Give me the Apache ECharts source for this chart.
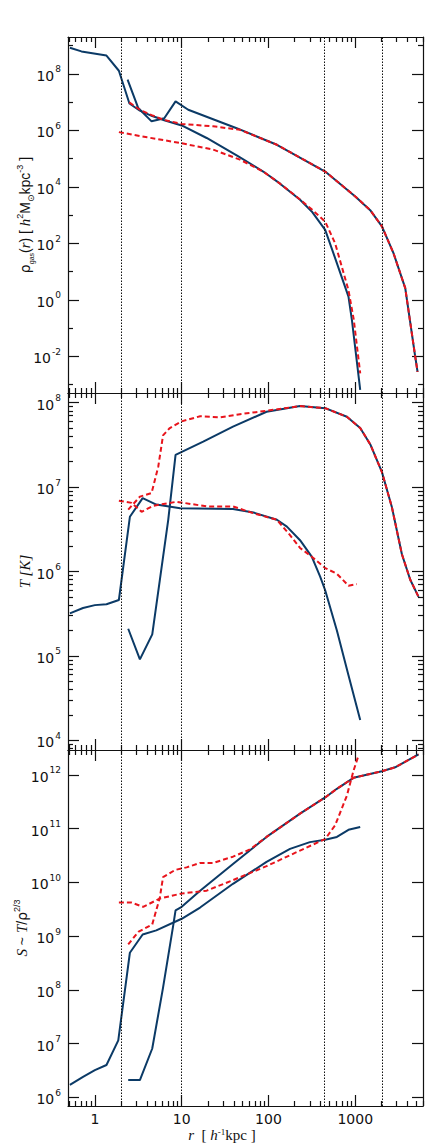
<!DOCTYPE html>
<html><head><meta charset="utf-8">
<script src="https://cdn.jsdelivr.net/npm/echarts@6/dist/echarts.min.js"></script>
<style>html,body{margin:0;padding:0;background:#fff}#c{width:436px;height:1144px}</style>
</head><body><div id="c"></div>
<script>
// ---------------- data ----------------
// radius r [h^-1 kpc] per curve, and the values
// Panel 1: gas density
const rhoInnerBlueR = [0.515, 0.70, 1.36, 1.89, 2.5, 3.3, 4.5, 6.3, 10, 19.4, 45, 87, 136, 231, 315, 450, 586, 835, 915, 1140];
const rhoInnerBlueV = [8.5e8, 6.3e8, 4.5e8, 1.3e8, 9e6, 5e6, 3.3e6, 2.3e6, 1.5e6, 5.4e5, 1.2e5, 3.5e4, 1.3e4, 3.5e3, 1.35e3, 300, 30, 1.3, 0.19, 6.5e-4];
const rhoInnerRedR = [1.89, 4, 10, 23, 47, 87, 136, 231, 315, 450, 586, 835, 960, 1140];
const rhoInnerRedV = [8.7e5, 5.7e5, 3.5e5, 2.1e5, 9.2e4, 3.5e4, 1.3e4, 3.6e3, 1.6e3, 590, 100, 2.2, 0.2, 2.5e-3];
const rhoOuterBlueR = [2.38, 3.16, 4.5, 6.3, 8.5, 11.9, 43, 125, 450, 1000, 1486, 2028, 2755, 3765, 4900, 5220];
const rhoOuterBlueV = [6.3e7, 6.2e6, 2.1e6, 2.7e6, 1.07e7, 5.4e6, 1.2e6, 3.1e5, 3.5e4, 4.6e3, 1.5e3, 400, 45, 2.6, 0.01, 2.8e-3];
const rhoOuterRedR = [2.49, 3.3, 4.5, 6.1, 10, 23, 47, 125, 450, 1000, 1486, 2028, 2755, 3765, 4900, 5220];
const rhoOuterRedV = [9.8e6, 5.4e6, 3.5e6, 2.4e6, 1.7e6, 1.4e6, 1.05e6, 3.1e5, 3.5e4, 4.6e3, 1.5e3, 400, 45, 2.6, 0.01, 2.8e-3];

// Panel 2: temperature
const tInnerBlueR = [0.515, 0.73, 1, 1.36, 1.89, 2.53, 3.55, 5.1, 9.6, 39, 67, 125, 163, 231, 315, 394, 450, 614, 835, 1140];
const tInnerBlueV = [3.2e5, 3.7e5, 4e5, 4.1e5, 4.6e5, 4.45e6, 7.4e6, 6.2e6, 5.6e6, 5.5e6, 5e6, 4.1e6, 3.4e6, 2.35e6, 1.5e6, 8.7e5, 6e5, 2e5, 5.9e4, 1.75e4];
const tInnerRedR = [1.89, 2.65, 3.45, 4.7, 8.75, 19.4, 39, 67, 125, 177, 231, 315, 450, 614, 835, 1040];
const tInnerRedV = [6.9e6, 6.5e6, 5.1e6, 6e6, 6.7e6, 5.9e6, 5.9e6, 4.9e6, 4.1e6, 2.7e6, 1.9e6, 1.5e6, 1.1e6, 9.4e5, 6.8e5, 7.1e5];
const tOuterBlueR = [2.42, 3.3, 4.58, 5.6, 7.0, 8.5, 17.7, 39, 95, 231, 450, 800, 1140, 1490, 2030, 2640, 3445, 4300, 5360];
const tOuterBlueV = [2.1e5, 9.1e4, 1.8e5, 7.9e5, 4.1e6, 2.4e7, 3.45e7, 5.2e7, 7.8e7, 9.1e7, 8.6e7, 6.8e7, 5e7, 3.2e7, 1.5e7, 5.8e6, 1.6e6, 8e5, 5e5];
const tOuterRedR = [2.42, 3.3, 4.5, 5.37, 6.1, 7.3, 10, 16.3, 27.7, 47, 95, 231, 450, 800, 1140, 1490, 2030, 2640, 3445, 4300, 5360];
const tOuterRedV = [5.4e6, 7.7e6, 8.5e6, 1.74e7, 4.1e7, 5e7, 6e7, 6.9e7, 6.7e7, 7.3e7, 8e7, 9.1e7, 8.6e7, 6.8e7, 5e7, 3.2e7, 1.5e7, 5.8e6, 1.6e6, 8e5, 5e5];

// Panel 3: entropy
const sInnerBlueR = [0.515, 0.73, 1, 1.36, 1.86, 2.53, 3.55, 5.1, 10, 16.3, 39, 95, 177, 300, 450, 614, 835, 1140];
const sInnerBlueV = [1.7e6, 2.4e6, 3.2e6, 4e6, 1.15e7, 4.9e8, 1.07e9, 1.28e9, 2.1e9, 3.4e9, 9.4e9, 2.4e10, 4.2e10, 5.6e10, 6.2e10, 7e10, 9.5e10, 1.07e11];
const sInnerRedR = [1.89, 2.65, 3.6, 5.6, 10, 19.4, 39, 95, 231, 450, 586, 800, 955, 1090];
const sInnerRedV = [4.2e9, 4.2e9, 3.5e9, 5e9, 6.2e9, 7e9, 1.1e10, 2e10, 3.9e10, 6.4e10, 1.15e11, 4.1e11, 1.2e12, 2.3e12];
const sOuterBlueR = [2.42, 3.3, 4.58, 6.1, 8.0, 8.5, 10, 16.3, 39, 95, 231, 450, 614, 955, 2030, 2880, 5360];
const sOuterBlueV = [2.1e6, 2.1e6, 8.1e6, 1.1e8, 1.6e9, 3e9, 3.5e9, 7e9, 2.2e10, 7e10, 1.9e11, 3.8e11, 5.5e11, 8.8e11, 1.17e12, 1.38e12, 2.4e12];
const sOuterRedR = [2.42, 3.16, 4.58, 5.6, 6.1, 8.4, 11.4, 16.3, 23, 39, 61, 95, 231, 450, 614, 955, 2030, 2880, 5360];
const sOuterRedV = [7e8, 1.2e9, 1.65e9, 5.2e9, 1.25e10, 1.7e10, 1.9e10, 2.3e10, 2.3e10, 3e10, 4.1e10, 7e10, 1.9e11, 3.8e11, 5.5e11, 8.8e11, 1.17e12, 1.38e12, 2.4e12];

// vertical reference radii
const refRadii = [2, 10, 442, 2060];

// tick values
const xMajorTicks = [1, 10, 100, 1000];
const xMinorTicks = [0.5, 0.6, 0.7, 0.8, 0.9, 2, 3, 4, 5, 6, 7, 8, 9, 20, 30, 40, 50, 60, 70, 80, 90,
  200, 300, 400, 500, 600, 700, 800, 900, 2000, 3000, 4000, 5000, 6000];
const xTickLabels = [1, 10, 100, 1000];
const rhoMajorTicks = [1e-2, 1e0, 1e2, 1e4, 1e6, 1e8];
const rhoMinorTicks = [1e-3, 1e-1, 1e1, 1e3, 1e5, 1e7, 1e9];
const tMajorTicks = [1e4, 1e5, 1e6, 1e7, 1e8];
const tMinorTicks = [8e3, 9e3, 2e4, 3e4, 4e4, 5e4, 6e4, 7e4, 8e4, 9e4, 2e5, 3e5, 4e5, 5e5, 6e5, 7e5, 8e5, 9e5,
  2e6, 3e6, 4e6, 5e6, 6e6, 7e6, 8e6, 9e6, 2e7, 3e7, 4e7, 5e7, 6e7, 7e7, 8e7, 9e7];
const sMajorTicks = [1e6, 1e7, 1e8, 1e9, 1e10, 1e11, 1e12];
const sMinorTicks = [];

// ---------------- chart ----------------
const BLUE = '#0b3a66', RED = '#e8141c', INK = '#111';
const X_MIN = 0.49, X_MAX = 6030;
const grids = [
  {left: 68, width: 355, top: 37, height: 356, containLabel: false, outerBoundsMode: 'none'},
  {left: 68, width: 355, top: 393, height: 357, containLabel: false, outerBoundsMode: 'none'},
  {left: 68, width: 355, top: 750, height: 356, containLabel: false, outerBoundsMode: 'none'}
];
const yRanges = [[5e-4, 2.04e9], [7.7e3, 1.3e8], [6.9e5, 2.9e12]];
const yMajor = [rhoMajorTicks, tMajorTicks, sMajorTicks];
const yMinor = [rhoMinorTicks, tMinorTicks, sMinorTicks];

const supRich = {
  b: {fontFamily: 'DejaVu Sans', fontSize: 14, color: INK, lineHeight: 18, verticalAlign: 'bottom'},
  s: {fontFamily: 'DejaVu Sans', fontSize: 9, color: INK, lineHeight: 18, verticalAlign: 'top', padding: [0, 0, 0, 1]}
};
function powLabel(v) {
  const e = Math.round(Math.log10(v));
  return '{b|10}{s|' + e + '}';
}

function axisBase(gi, pos, min, max) {
  return {
    type: 'log', logBase: 10, gridIndex: gi, position: pos, min: min, max: max,
    axisLine: {show: false, onZero: false},
    axisTick: {show: false},
    axisLabel: {show: false},
    splitLine: {show: false}, minorTick: {show: false}, minorSplitLine: {show: false},
    silent: true
  };
}
const xAxes = [], yAxes = [];
grids.forEach((g, gi) => {
  ['bottom', 'top'].forEach(pos => {
    const major = axisBase(gi, pos, X_MIN, X_MAX);
    major.axisLine = {show: true, onZero: false, lineStyle: {color: INK, width: 1.2}};
    major.axisTick = {show: true, inside: true, length: 11, customValues: xMajorTicks, lineStyle: {color: INK, width: 1.2}};
    if (gi === 2 && pos === 'bottom') {
      major.axisLabel = {show: true, customValues: xTickLabels, margin: 6, fontFamily: 'DejaVu Sans', fontSize: 14, color: INK,
        formatter: v => String(Math.round(v))};
      major.name = '{i|r}{n|  [ }{i|h}{s|-1}{n|kpc ]}';
      major.nameLocation = 'middle';
      major.nameGap = 21;
      major.nameTextStyle = {padding: [0, 47, 0, 0], rich: {
        i: {fontFamily: 'Liberation Serif', fontStyle: 'italic', fontSize: 15, color: INK, lineHeight: 16},
        n: {fontFamily: 'Liberation Serif', fontSize: 15, color: INK, lineHeight: 16},
        s: {fontFamily: 'Liberation Serif', fontSize: 9, color: INK, verticalAlign: 'top', lineHeight: 16}
      }};
    }
    xAxes.push(major);
    const minor = axisBase(gi, pos, X_MIN, X_MAX);
    minor.axisTick = {show: true, inside: true, length: 5, customValues: xMinorTicks, lineStyle: {color: INK, width: 1.2}};
    xAxes.push(minor);
  });
  ['left', 'right'].forEach(pos => {
    const [mn, mx] = yRanges[gi];
    const major = axisBase(gi, pos, mn, mx);
    major.axisLine = {show: true, onZero: false, lineStyle: {color: INK, width: 1.2}};
    major.axisTick = {show: true, inside: true, length: 11, customValues: yMajor[gi], lineStyle: {color: INK, width: 1.2}};
    if (pos === 'left') {
      major.axisLabel = {show: true, customValues: yMajor[gi], margin: 7, formatter: powLabel, rich: supRich};
    }
    yAxes.push(major);
    const minor = axisBase(gi, pos, mn, mx);
    if (yMinor[gi].length) {
      minor.axisTick = {show: true, inside: true, length: 5, customValues: yMinor[gi], lineStyle: {color: INK, width: 1.2}};
    }
    yAxes.push(minor);
  });
});

// y axis titles
const titleRich = {
  n: {fontFamily: 'Liberation Sans', fontSize: 14, color: INK, lineHeight: 20},
  g: {fontFamily: 'DejaVu Sans', fontSize: 14, color: INK, lineHeight: 20},
  gs: {fontFamily: 'Liberation Sans', fontSize: 7, color: INK, verticalAlign: 'bottom', lineHeight: 16},
  i: {fontFamily: 'Liberation Serif', fontStyle: 'italic', fontSize: 15, color: INK, lineHeight: 20},
  sp: {fontFamily: 'Liberation Sans', fontSize: 9, color: INK, verticalAlign: 'top', lineHeight: 20},
  sb: {fontFamily: 'DejaVu Sans', fontSize: 9, color: INK, verticalAlign: 'bottom', lineHeight: 18}
};
const yNames = [
  '{g|ρ}{gs|gas}{n|(}{i|r}{n|) [ }{i|h}{sp|2}{n|M}{sb|⊙}{n|kpc}{sp|-3}{n| ]}',
  '{i|T [K]}',
  '{i|S}{n| ~ }{i|T}{n|/}{g|ρ}{sp|2/3}'
];
const nameGaps = [33, 33, 36];
[0, 1, 2].forEach(gi => {
  const ax = yAxes[gi * 4];
  ax.name = yNames[gi];
  ax.nameLocation = 'middle';
  ax.nameRotate = 90;
  ax.nameGap = nameGaps[gi];
  ax.nameMoveOverlap = false;
  ax.nameTextStyle = {rich: titleRich};
});

function pairs(rs, vs) { return rs.map((r, i) => [r, vs[i]]); }
function lineSeries(gi, rs, vs, color, dashed) {
  return {
    type: 'line', xAxisIndex: gi * 4, yAxisIndex: gi * 4, data: pairs(rs, vs),
    showSymbol: false, symbol: 'none', smooth: false, clip: true, silent: true,
    lineStyle: {color: color, width: 2, type: dashed ? [5, 3] : 'solid'},
    z: dashed ? 3 : 2
  };
}
const panelData = [
  [rhoInnerBlueR, rhoInnerBlueV, rhoOuterBlueR, rhoOuterBlueV, rhoInnerRedR, rhoInnerRedV, rhoOuterRedR, rhoOuterRedV],
  [tInnerBlueR, tInnerBlueV, tOuterBlueR, tOuterBlueV, tInnerRedR, tInnerRedV, tOuterRedR, tOuterRedV],
  [sInnerBlueR, sInnerBlueV, sOuterBlueR, sOuterBlueV, sInnerRedR, sInnerRedV, sOuterRedR, sOuterRedV]
];
const series = [];
panelData.forEach((d, gi) => {
  const first = lineSeries(gi, d[0], d[1], BLUE, false);
  first.markLine = {
    silent: true, symbol: ['none', 'none'], animation: false,
    label: {show: false},
    lineStyle: {color: INK, width: 1, type: [1.5, 1.5]},
    data: refRadii.map(r => ({xAxis: r}))
  };
  series.push(first);
  series.push(lineSeries(gi, d[2], d[3], BLUE, false));
  series.push(lineSeries(gi, d[4], d[5], RED, true));
  series.push(lineSeries(gi, d[6], d[7], RED, true));
});

const chart = echarts.init(document.getElementById('c'), null, {renderer: 'svg', width: 436, height: 1144});
chart.setOption({
  animation: false,
  backgroundColor: '#fff',
  grid: grids,
  xAxis: xAxes,
  yAxis: yAxes,
  series: series
});
</script>
</body></html>
